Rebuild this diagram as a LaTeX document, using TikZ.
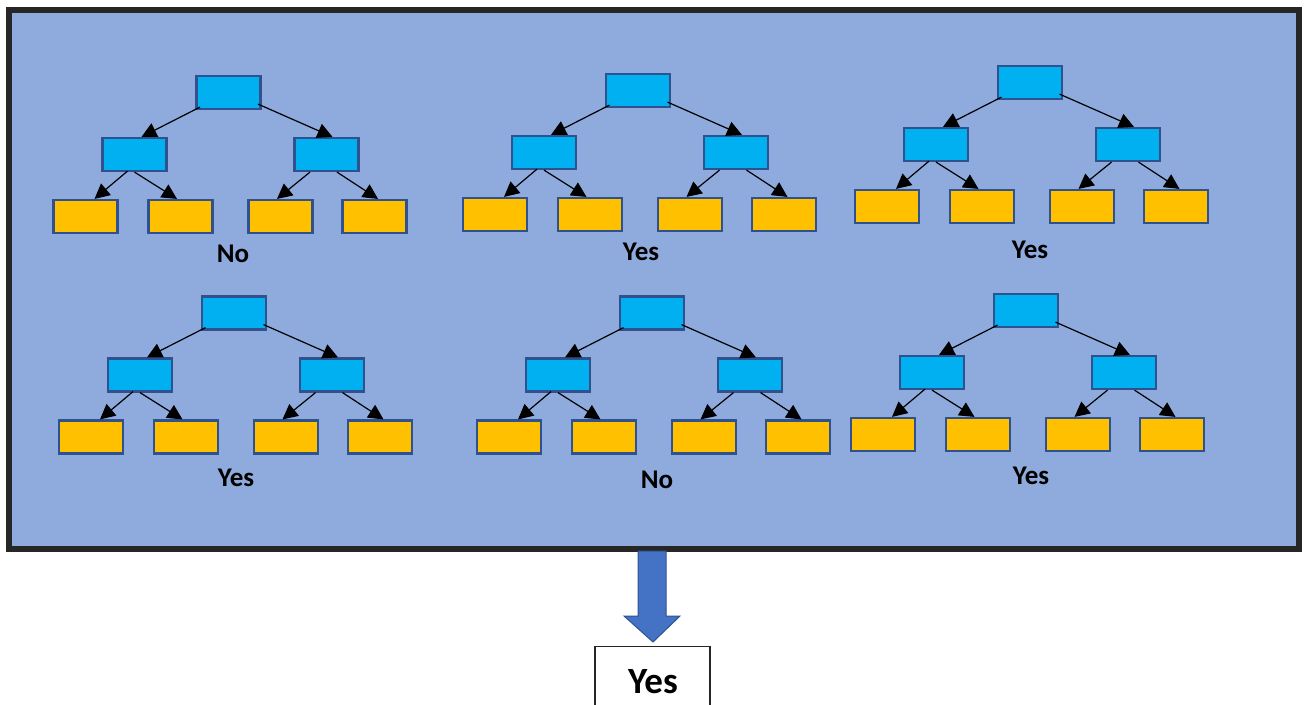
\documentclass[tikz,border=0pt]{standalone}
\usepackage{fontspec}
\setmainfont{Carlito}
\usetikzlibrary{calc,arrows.meta}
\definecolor{bgblue}{HTML}{8FAADC}
\definecolor{cyanbox}{HTML}{00B0F0}
\definecolor{goldbox}{HTML}{FFC000}
\definecolor{outl}{HTML}{2F528F}
\definecolor{arrowblue}{HTML}{4472C4}
\definecolor{framec}{HTML}{262626}
\tikzset{
  nodebox/.style={draw=outl, line width=2.2pt, fill=cyanbox, minimum width=64pt, minimum height=33pt, inner sep=0pt},
  leafbox/.style={draw=outl, line width=2.2pt, fill=goldbox, minimum width=64pt, minimum height=33pt, inner sep=0pt},
  edge/.style={draw=black, line width=1.2pt, -{Triangle[length=15pt,width=15pt]}},
  verdict/.style={font=\fontsize{27}{31}\selectfont\bfseries, anchor=base, inner sep=0pt},
}
\newcommand\dtree[6]{%
  \begin{scope}[shift={(#2,#3)}]
    \node[nodebox] (#1r) at (0,0) {};
    \node[nodebox] (#1a) at (-94,62) {};
    \node[nodebox] (#1b) at (98,62) {};
    \node[leafbox] (#1l1) at (-143,124) {};
    \node[leafbox] (#1l2) at (-48,124) {};
    \node[leafbox] (#1l3) at (52,124) {};
    \node[leafbox] (#1l4) at (146,124) {};
  \end{scope}
  \draw[edge] ($(#1r.south)+(-28.5,-3)$) -- ($(#1a.north)+(7,0)$);
  \draw[edge] ($(#1r.south)+(29.5,-6)$) -- ($(#1b.north)+(6,0)$);
  \draw[edge] ($(#1a.south)+(-7,-1)$) -- ($(#1l1.north)+(9,0)$);
  \draw[edge] ($(#1a.south)+(0,0)$) -- ($(#1l2.north)+(-3.5,0)$);
  \draw[edge] ($(#1b.south)+(-16.5,0)$) -- ($(#1l3.north)+(-3.5,0)$);
  \draw[edge] ($(#1b.south)+(10.5,0)$) -- ($(#1l4.north)+(3.5,0)$);
  \node[verdict] (#1v) at (#5,#6) {#4};
}
\begin{document}
\begin{tikzpicture}[x=1pt,y=-1pt]
  \useasboundingbox (0,0) rectangle (1306,704);
  \clip (0,0) rectangle (1306,704);
  \fill[white] (0,0) rectangle (1306,704);
  \node[draw=framec, line width=6pt, fill=bgblue, minimum width=1290pt, minimum height=539pt, inner sep=0pt] (frame) at (654,279.5) {};
  \dtree{t1}{228.5}{92.5}{No}{233}{262}
  \dtree{t2}{638}{90.5}{Yes}{641}{260}
  \dtree{t3}{1030}{82.5}{Yes}{1030}{258}
  \dtree{t4}{234}{313}{Yes}{236}{486}
  \dtree{t5}{652}{313}{No}{657}{488}
  \dtree{t6}{1026}{310.5}{Yes}{1031}{484}
  \node[draw=framec, line width=1.3pt, fill=white, minimum width=115pt, minimum height=80pt, anchor=north, inner sep=0pt] (res) at (652.5,646) {};
  \node[font=\fontsize{37}{42}\selectfont\bfseries, anchor=base, inner sep=0pt] (restext) at (653,693) {Yes};
  \draw[draw=outl, line width=1pt, fill=arrowblue]
    ($(frame.south)+(-16,-1)$) -- ++(28,0) -- ++(0,65) -- ++(14,0)
    -- ($(res.north)+(0.5,-4)$) -- ($(frame.south)+(-30,64)$) -- ++(14,0) -- cycle;
\end{tikzpicture}
\end{document}
